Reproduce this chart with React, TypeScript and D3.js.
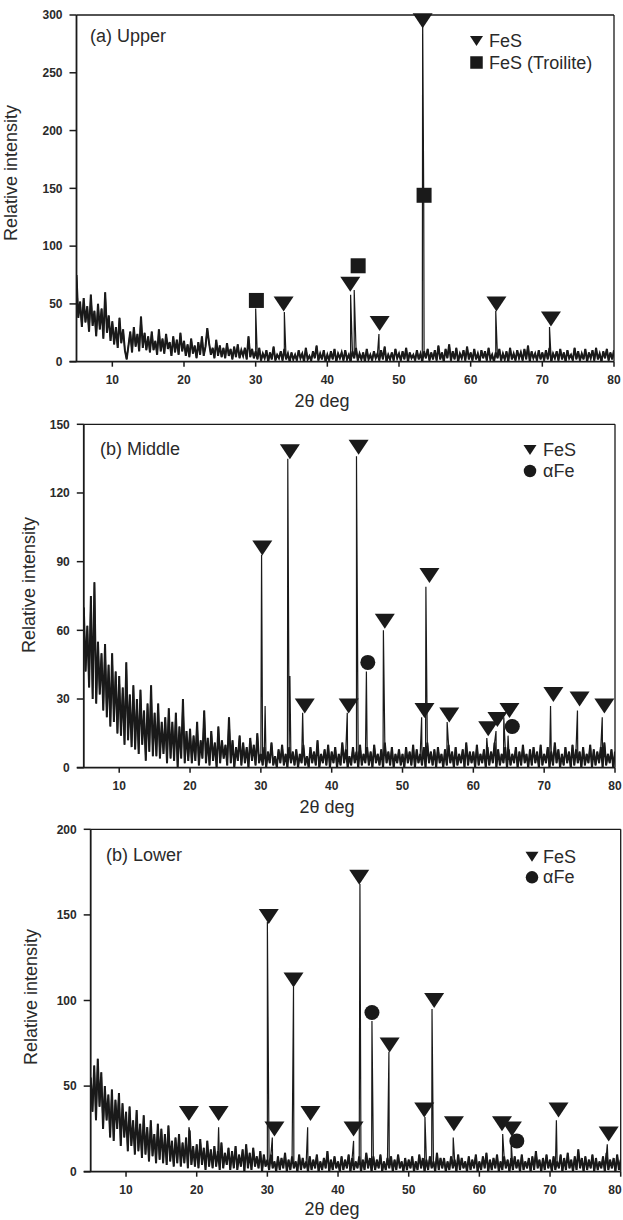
import React from "react";
import * as d3 from "d3";

// 2-theta range and sampling step of the digitised baseline
const X_DOMAIN = [5, 80];
const STEP = 0.25;
const X_TICKS = [10, 20, 30, 40, 50, 60, 70, 80];

const UPPER_Y_TICKS = [0, 50, 100, 150, 200, 250, 300];
const MIDDLE_Y_TICKS = [0, 30, 60, 90, 120, 150];
const LOWER_Y_TICKS = [0, 50, 100, 150, 200];

// baseline intensity, one value every 0.25 deg from 5 to 80
const UPPER_BASE = [
  75, 38, 52, 30, 55, 34, 48, 26, 58, 31, 44, 22, 50, 28, 46, 20, 60, 25, 40, 18,
  35, 15, 30, 12, 38, 16, 28, 10, 2, 14, 26, 8, 30, 13, 24, 9, 39, 12, 25, 10,
  22, 8, 26, 10, 18, 6, 28, 9, 20, 7, 24, 11, 17, 5, 22, 8, 19, 6, 25, 9,
  18, 5, 15, 4, 20, 7, 14, 3, 17, 6, 22, 5, 13, 29, 16, 6, 12, 3, 19, 5,
  14, 4, 12, 3, 16, 5, 11, 2, 13, 4, 15, 3, 10, 5, 12, 2, 22, 4, 11, 3,
  9, 2, 12, 1, 7, 3, 10, 0, 8, 2, 13, 1, 6, 3, 9, 1, 11, 2, 7, 0,
  8, 2, 6, 1, 10, 3, 7, 0, 12, 2, 5, 1, 9, 3, 14, 1, 7, 2, 10, 0,
  6, 1, 9, 2, 11, 0, 7, 3, 8, 1, 10, 2, 6, 0, 9, 3, 12, 1, 7, 2,
  8, 0, 11, 2, 6, 1, 9, 3, 7, 1, 10, 2, 13, 0, 6, 2, 8, 1, 11, 3,
  7, 1, 9, 2, 12, 0, 8, 3, 6, 1, 10, 2, 7, 0, 9, 3, 11, 1, 8, 2,
  10, 1, 14, 2, 8, 0, 11, 3, 15, 1, 9, 2, 12, 0, 7, 3, 10, 1, 13, 2,
  8, 1, 11, 2, 7, 0, 10, 3, 9, 1, 12, 2, 6, 0, 8, 3, 11, 1, 7, 2,
  9, 0, 12, 2, 7, 1, 10, 3, 8, 1, 11, 2, 14, 0, 9, 3, 7, 1, 10, 2,
  8, 1, 10, 2, 12, 0, 7, 3, 9, 1, 11, 2, 8, 0, 10, 3, 6, 1, 12, 2,
  9, 1, 7, 2, 11, 0, 8, 3, 10, 1, 12, 2, 7, 0, 9, 3, 11, 1, 8, 2, 10,
];

const MIDDLE_BASE = [
  70, 42, 62, 35, 75, 30, 81, 28, 55, 32, 50, 25, 54, 22, 45, 18, 50, 20, 42, 15,
  40, 14, 35, 10, 46, 12, 32, 9, 36, 8, 30, 6, 34, 10, 25, 3, 28, 7, 36, 5,
  24, 5, 28, 4, 20, 6, 22, 2, 26, 4, 20, 3, 24, 0, 18, 4, 30, 2, 16, 3,
  17, 2, 14, 3, 20, 1, 12, 4, 25, 2, 13, 1, 16, 3, 11, 0, 18, 2, 12, 4,
  10, 1, 22, 2, 12, 0, 9, 3, 14, 1, 11, 2, 9, 0, 13, 3, 10, 1, 15, 2,
  6, 1, 9, 0, 7, 2, 11, 1, 5, 0, 8, 2, 10, 1, 6, 0, 9, 2, 7, 1,
  8, 0, 6, 2, 10, 1, 5, 0, 9, 2, 7, 1, 12, 0, 6, 2, 8, 1, 10, 0,
  7, 2, 9, 0, 6, 1, 11, 2, 8, 0, 5, 1, 9, 2, 7, 0, 10, 1, 6, 2,
  9, 1, 7, 0, 10, 2, 6, 1, 8, 0, 11, 2, 7, 1, 9, 0, 6, 2, 8, 1,
  6, 0, 9, 2, 7, 1, 10, 0, 8, 2, 6, 1, 9, 0, 11, 2, 7, 1, 8, 0,
  9, 2, 6, 0, 8, 1, 10, 2, 7, 0, 9, 1, 6, 2, 8, 0, 11, 1, 7, 2,
  7, 0, 10, 1, 6, 2, 8, 0, 9, 1, 7, 2, 11, 0, 8, 1, 6, 2, 9, 0,
  8, 1, 6, 2, 9, 0, 7, 1, 10, 2, 6, 0, 8, 1, 9, 2, 7, 0, 10, 1,
  6, 2, 9, 0, 7, 1, 11, 2, 8, 0, 6, 1, 9, 2, 7, 0, 10, 1, 8, 2,
  7, 0, 9, 1, 6, 2, 10, 0, 8, 1, 7, 2, 9, 0, 11, 1, 6, 2, 8, 0, 7,
];

const LOWER_BASE = [
  55, 35, 62, 30, 66, 38, 58, 25, 50, 30, 45, 20, 48, 18, 42, 25, 46, 15, 40, 20,
  35, 12, 38, 15, 30, 10, 36, 12, 28, 8, 33, 10, 26, 6, 30, 9, 22, 5, 28, 7,
  25, 5, 22, 4, 27, 6, 18, 3, 20, 5, 22, 3, 17, 5, 20, 2, 24, 4, 15, 3,
  16, 2, 19, 4, 14, 1, 18, 3, 13, 2, 15, 3, 12, 1, 17, 2, 11, 4, 14, 1,
  12, 2, 15, 1, 10, 3, 13, 0, 16, 2, 11, 1, 14, 3, 9, 2, 12, 0, 10, 3,
  7, 1, 10, 2, 6, 0, 9, 1, 8, 2, 11, 0, 7, 1, 9, 2, 6, 0, 10, 1,
  8, 2, 6, 0, 9, 1, 7, 2, 10, 0, 6, 1, 8, 2, 12, 0, 7, 1, 9, 2,
  6, 0, 9, 1, 7, 2, 10, 0, 8, 1, 6, 2, 9, 0, 7, 1, 11, 2, 8, 0,
  9, 1, 7, 2, 10, 0, 6, 1, 8, 2, 9, 0, 7, 1, 10, 2, 6, 0, 8, 1,
  7, 2, 9, 0, 6, 1, 10, 2, 8, 0, 7, 1, 9, 2, 6, 0, 11, 1, 8, 2,
  8, 0, 6, 1, 9, 2, 7, 0, 10, 1, 8, 2, 6, 0, 9, 1, 7, 2, 10, 0,
  6, 1, 9, 2, 11, 0, 7, 1, 8, 2, 10, 0, 6, 1, 9, 2, 7, 0, 8, 1,
  9, 2, 7, 0, 10, 1, 6, 2, 8, 0, 9, 1, 12, 2, 7, 0, 8, 1, 10, 2,
  7, 0, 9, 1, 6, 2, 10, 0, 8, 1, 11, 2, 7, 0, 9, 1, 13, 2, 8, 0,
  9, 1, 7, 2, 10, 0, 8, 1, 6, 2, 9, 0, 11, 1, 7, 2, 8, 0, 10, 1, 7,
];

// diffraction peaks [2theta, intensity]
const UPPER_PEAKS = [
  [30.0, 46], [34.0, 43], [43.25, 58], [43.75, 62], [47.2, 24],
  [53.3, 300], [53.45, 140], [63.5, 44], [71.0, 30],
];
const MIDDLE_PEAKS = [
  [30.1, 93], [30.6, 27], [33.8, 135], [34.1, 40], [35.9, 24], [42.2, 24],
  [43.5, 136], [44.9, 42], [47.3, 60], [52.7, 22], [53.3, 79], [56.3, 20],
  [61.9, 13], [63.2, 16], [64.3, 22], [64.9, 14], [70.9, 27], [74.7, 25], [78.2, 22],
];
const LOWER_PEAKS = [
  [18.9, 26], [23.1, 26], [30.0, 146], [30.7, 20], [33.7, 108], [35.7, 26],
  [42.2, 18], [43.1, 168], [44.8, 88], [47.2, 70], [52.3, 32], [53.3, 95],
  [56.3, 20], [63.3, 22], [64.5, 18], [70.9, 30], [78.1, 16],
];

// phase markers [2theta, intensity]
const UPPER_FES = [[33.9, 50], [43.2, 67], [47.3, 33], [53.3, 295], [63.6, 50], [71.2, 37]];
const UPPER_TROILITE = [[30.1, 53], [44.3, 83], [53.5, 144]];
const MIDDLE_FES = [
  [30.2, 96], [34.1, 138], [36.2, 27], [42.4, 27], [43.8, 140], [47.5, 64],
  [53.1, 25], [53.8, 84], [56.6, 23], [62.1, 17], [63.4, 21], [65.1, 25],
  [71.3, 32], [75.0, 30], [78.5, 27],
];
const MIDDLE_AFE = [[45.1, 46], [65.5, 18]];
const LOWER_FES = [
  [18.9, 34], [23.1, 34], [30.2, 149], [31.0, 25], [33.7, 112], [36.1, 34],
  [42.2, 25], [43.0, 172], [47.3, 74], [52.2, 36], [53.6, 100], [56.4, 28],
  [63.2, 28], [64.6, 25], [71.2, 36], [78.3, 22],
];
const LOWER_AFE = [[44.8, 93], [65.3, 18]];

const FONT = "'Liberation Sans', Arial, Helvetica, sans-serif";
const INK = "#1a1a1a";
const TEXT = "#2a2a2a";
const PAGE_W = 623;

const panels = [
  {
    id: "upper", label: "(a) Upper", base: UPPER_BASE, peaks: UPPER_PEAKS,
    fes: UPPER_FES, other: UPPER_TROILITE, otherShape: "square", otherName: "FeS (Troilite)",
    yTicks: UPPER_Y_TICKS,
    box: { left: 76.5, right: 614, top: 15, bottom: 361.7 },
    labelPos: [90, 41.5], legend: { x: 476.5, y1: 41, y2: 62.5, tx: 489 },
    yTitle: [12, 173], xTitle: [322, 406.5],
  },
  {
    id: "middle", label: "(b) Middle", base: MIDDLE_BASE, peaks: MIDDLE_PEAKS,
    fes: MIDDLE_FES, other: MIDDLE_AFE, otherShape: "circle", otherName: "αFe",
    yTicks: MIDDLE_Y_TICKS,
    box: { left: 83.8, right: 615, top: 424.3, bottom: 767.7 },
    labelPos: [100, 455], legend: { x: 530, y1: 450, y2: 471, tx: 543 },
    yTitle: [30, 585], xTitle: [327, 812.5],
  },
  {
    id: "lower", label: "(b) Lower", base: LOWER_BASE, peaks: LOWER_PEAKS,
    fes: LOWER_FES, other: LOWER_AFE, otherShape: "circle", otherName: "αFe",
    yTicks: LOWER_Y_TICKS,
    box: { left: 90.7, right: 620.7, top: 829.3, bottom: 1171.7 },
    labelPos: [106, 861], legend: { x: 532, y1: 856.7, y2: 877.3, tx: 543 },
    yTitle: [32, 997], xTitle: [332, 1214.5],
  },
];

function tri(cx: number, cy: number, w: number, h: number) {
  return `M${cx - w / 2},${cy - h / 2}L${cx + w / 2},${cy - h / 2}L${cx},${cy + h / 2}Z`;
}

function Marker({ shape, cx, cy, size }: any) {
  if (shape === "square")
    return <rect x={cx - size / 2} y={cy - size / 2} width={size} height={size} fill={INK} />;
  return <circle cx={cx} cy={cy} r={size / 2} fill={INK} />;
}

function Panel({ cfg }: any) {
  const { box } = cfg;
  const x = d3.scaleLinear().domain(X_DOMAIN).range([box.left, box.right]);
  const yMax = cfg.yTicks[cfg.yTicks.length - 1];
  const y = d3.scaleLinear().domain([0, yMax]).range([box.bottom, box.top]);

  const basePts = cfg.base.map((v: number, i: number) => [X_DOMAIN[0] + i * STEP, v]);
  const pts = basePts.concat(cfg.peaks).sort((a: number[], b: number[]) => a[0] - b[0]);
  const line = d3.line<number[]>().x((d) => x(d[0])).y((d) => y(d[1]));

  const clipId = `clip-${cfg.id}`;
  const lg = cfg.legend;

  return (
    <g>
      <defs>
        <clipPath id={clipId}>
          <rect x={box.left} y={box.top} width={box.right - box.left} height={box.bottom - box.top} />
        </clipPath>
      </defs>

      <g clipPath={`url(#${clipId})`}>
        {/* dense noise band */}
        <path d={line(basePts) || ""} fill="none" stroke={INK} strokeWidth={2} />
        {/* full trace with peaks */}
        <path d={line(pts) || ""} fill="none" stroke={INK} strokeWidth={1.2} />
      </g>

      {/* frame */}
      <line x1={box.left} x2={box.right} y1={box.top} y2={box.top} stroke={INK} strokeWidth={1.3} />
      <line x1={box.right} x2={box.right} y1={box.top} y2={box.bottom} stroke={INK} strokeWidth={1.3} />
      <line x1={box.left} x2={box.left} y1={box.top} y2={box.bottom} stroke={INK} strokeWidth={1.8} />
      <line x1={box.left - 7} x2={box.right} y1={box.bottom} y2={box.bottom} stroke={INK} strokeWidth={1.8} />

      {/* y axis */}
      {cfg.yTicks.map((t: number) => (
        <g key={`y${t}`}>
          <line x1={box.left - 7} x2={box.left} y1={y(t)} y2={y(t)} stroke={INK} strokeWidth={1.5} />
          <text x={box.left - 14} y={y(t)} dy="0.36em" textAnchor="end" fontSize={12}
            fontWeight="bold" fontFamily={FONT} fill={TEXT}>{t}</text>
        </g>
      ))}

      {/* x axis */}
      {X_TICKS.map((t) => (
        <g key={`x${t}`}>
          <line x1={x(t)} x2={x(t)} y1={box.bottom} y2={box.bottom + 5} stroke={INK} strokeWidth={1.5} />
          <text x={Math.min(x(t), PAGE_W - 8)} y={box.bottom + 22.5} textAnchor="middle" fontSize={12}
            fontWeight="bold" fontFamily={FONT} fill={TEXT}>{t}</text>
        </g>
      ))}

      {/* markers */}
      {cfg.fes.map((d: number[], i: number) => (
        <path key={`f${i}`} d={tri(x(d[0]), y(d[1]), 20, 15)} fill={INK} />
      ))}
      {cfg.other.map((d: number[], i: number) => (
        <Marker key={`o${i}`} shape={cfg.otherShape} cx={x(d[0])} cy={y(d[1])} size={15} />
      ))}

      {/* legend */}
      <path d={tri(lg.x, lg.y1, 13, 10)} fill={INK} />
      <Marker shape={cfg.otherShape} cx={lg.x} cy={lg.y2} size={12.5} />
      <text x={lg.tx} y={lg.y1 + 6} fontSize={18} fontFamily={FONT} fill={TEXT}>FeS</text>
      <text x={lg.tx} y={lg.y2 + 6} fontSize={18} fontFamily={FONT} fill={TEXT}>{cfg.otherName}</text>

      {/* labels */}
      <text x={cfg.labelPos[0]} y={cfg.labelPos[1]} fontSize={18} fontFamily={FONT} fill={TEXT}>{cfg.label}</text>
      <text transform={`translate(${cfg.yTitle[0]},${cfg.yTitle[1]}) rotate(-90)`} dy="0.3em"
        textAnchor="middle" fontSize={18} fontFamily={FONT} fill={TEXT}>Relative intensity</text>
      <text x={cfg.xTitle[0]} y={cfg.xTitle[1]} textAnchor="middle" fontSize={18}
        fontFamily={FONT} fill={TEXT}>2θ deg</text>
    </g>
  );
}

export default function App() {
  return (
    <svg width={PAGE_W} height={1220} style={{ position: "absolute", left: 0, top: 0, background: "#fff" }}>
      {panels.map((p) => (
        <Panel key={p.id} cfg={p} />
      ))}
    </svg>
  );
}
